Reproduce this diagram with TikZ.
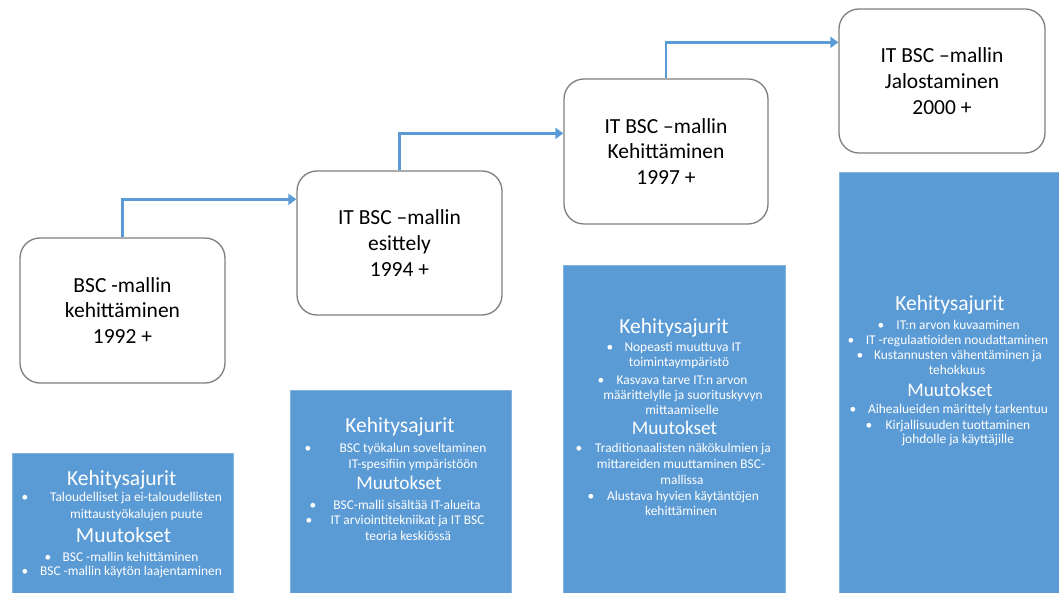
\documentclass[tikz,border=0pt]{standalone}
\usepackage{fontspec}
\setmainfont{Carlito}
\usetikzlibrary{arrows.meta}
\definecolor{accent}{HTML}{5B9BD5}
\definecolor{rim}{HTML}{7F7F7F}
\begin{document}
\begin{tikzpicture}[x=1pt,y=-1pt,
  stage/.style={draw=rim,line width=1.3pt,rounded corners=20pt,fill=white,
    align=center,inner sep=0pt,font=\fontsize{21.5}{25.7}\selectfont},
  panel/.style={fill=accent,draw=accent!75!white,line width=0.8pt},
  conn/.style={draw=accent,line width=2.6pt,-{Triangle[length=8pt,width=11pt]}},
  head/.style={text=white,inner sep=0pt,anchor=base,font=\fontsize{21.5}{26}\selectfont},
  subhead/.style={head,font=\fontsize{19.3}{23}\selectfont},
  item/.style={text=white,inner sep=0pt,anchor=base,font=\fontsize{13.4}{16}\selectfont},
]
\useasboundingbox (0,0) rectangle (1059,593);

% blue description panels, running off the lower edge
\path[panel] (12,453) rectangle (233,596);
\path[panel] (290,390) rectangle (511,596);
\path[panel] (563,265) rectangle (785,596);
\path[panel] (839,172) rectangle (1062,596);

% stage boxes
\node[stage,minimum width=205pt,minimum height=145pt] (w1) at (122.5,310.5) {BSC -mallin\\kehittäminen\\1992 +};
\node[stage,minimum width=205pt,minimum height=144pt] (w2) at (399.5,243) {IT BSC –mallin\\esittely\\1994 +};
\node[stage,minimum width=204pt,minimum height=145pt] (w3) at (666,151.5) {IT BSC –mallin\\Kehittäminen\\1997 +};
\node[stage,minimum width=206pt,minimum height=144pt] (w4) at (942,81) {IT BSC –mallin\\Jalostaminen\\2000 +};

% step connectors
\draw[conn] (w1.north) |- ([yshift=-29pt]w2.north west);
\draw[conn] (w2.north) |- ([yshift=-55pt]w3.north west);
\draw[conn] (w3.north) |- ([yshift=-34pt]w4.north west);

% panel texts
\foreach [count=\i] \x/\y/\s/\t in {
  121.7/485/head/Kehitysajurit,
  136/501/item/Taloudelliset ja ei-taloudellisten,
  136.5/518/item/mittaustyökalujen puute,
  123.5/542/head/Muutokset,
  130.5/561/item/BSC -mallin kehittäminen,
  131/575/item/BSC -mallin käytön laajentaminen,
  400/432/head/Kehitysajurit,
  413/452/item/BSC työkalun soveltaminen,
  413/468/item/IT-spesifiin ympäristöön,
  399/489/subhead/Muutokset,
  407/509/item/BSC-malli sisältää IT-alueita,
  407.5/524/item/IT arviointitekniikat ja IT BSC,
  408/540/item/teoria keskiössä,
  674/333/head/Kehitysajurit,
  683/351/item/Nopeasti muuttuva IT,
  679/366/item/toimintaympäristö,
  682/384/item/Kasvava tarve IT:n arvon,
  683/399/item/määrittelylle ja suorituskyvyn,
  682/414/item/mittaamiselle,
  674.5/434/subhead/Muutokset,
  683/452/item/Traditionaalisten näkökulmien ja,
  681/468/item/mittareiden muuttaminen BSC-,
  682/484/item/mallissa,
  683/500/item/Alustava hyvien käytäntöjen,
  681/515/item/kehittäminen,
  950/310/head/Kehitysajurit,
  958/329/item/IT:n arvon kuvaaminen,
  957/344/item/IT -regulaatioiden noudattaminen,
  958/359/item/Kustannusten vähentäminen ja,
  957/374/item/tehokkuus,
  950/396/subhead/Muutokset,
  958/413/item/Aihealueiden märittely tarkentuu,
  958/429/item/Kirjallisuuden tuottaminen,
  958/443/item/johdolle ja käyttäjille}
  \node[\s] (line\i) at (\x,\y) {\t};

% bullet marks
\foreach [count=\i] \x/\y in {25/501,48/561,25/575,
  308/452,313/509,309/524,
  610/351,601/384,579/452,591/500,
  881/329,851/344,860/359,853/413,869/429}
  \node[item] (dot\i) at (\x,\y) {\textbullet};
\end{tikzpicture}
\end{document}
